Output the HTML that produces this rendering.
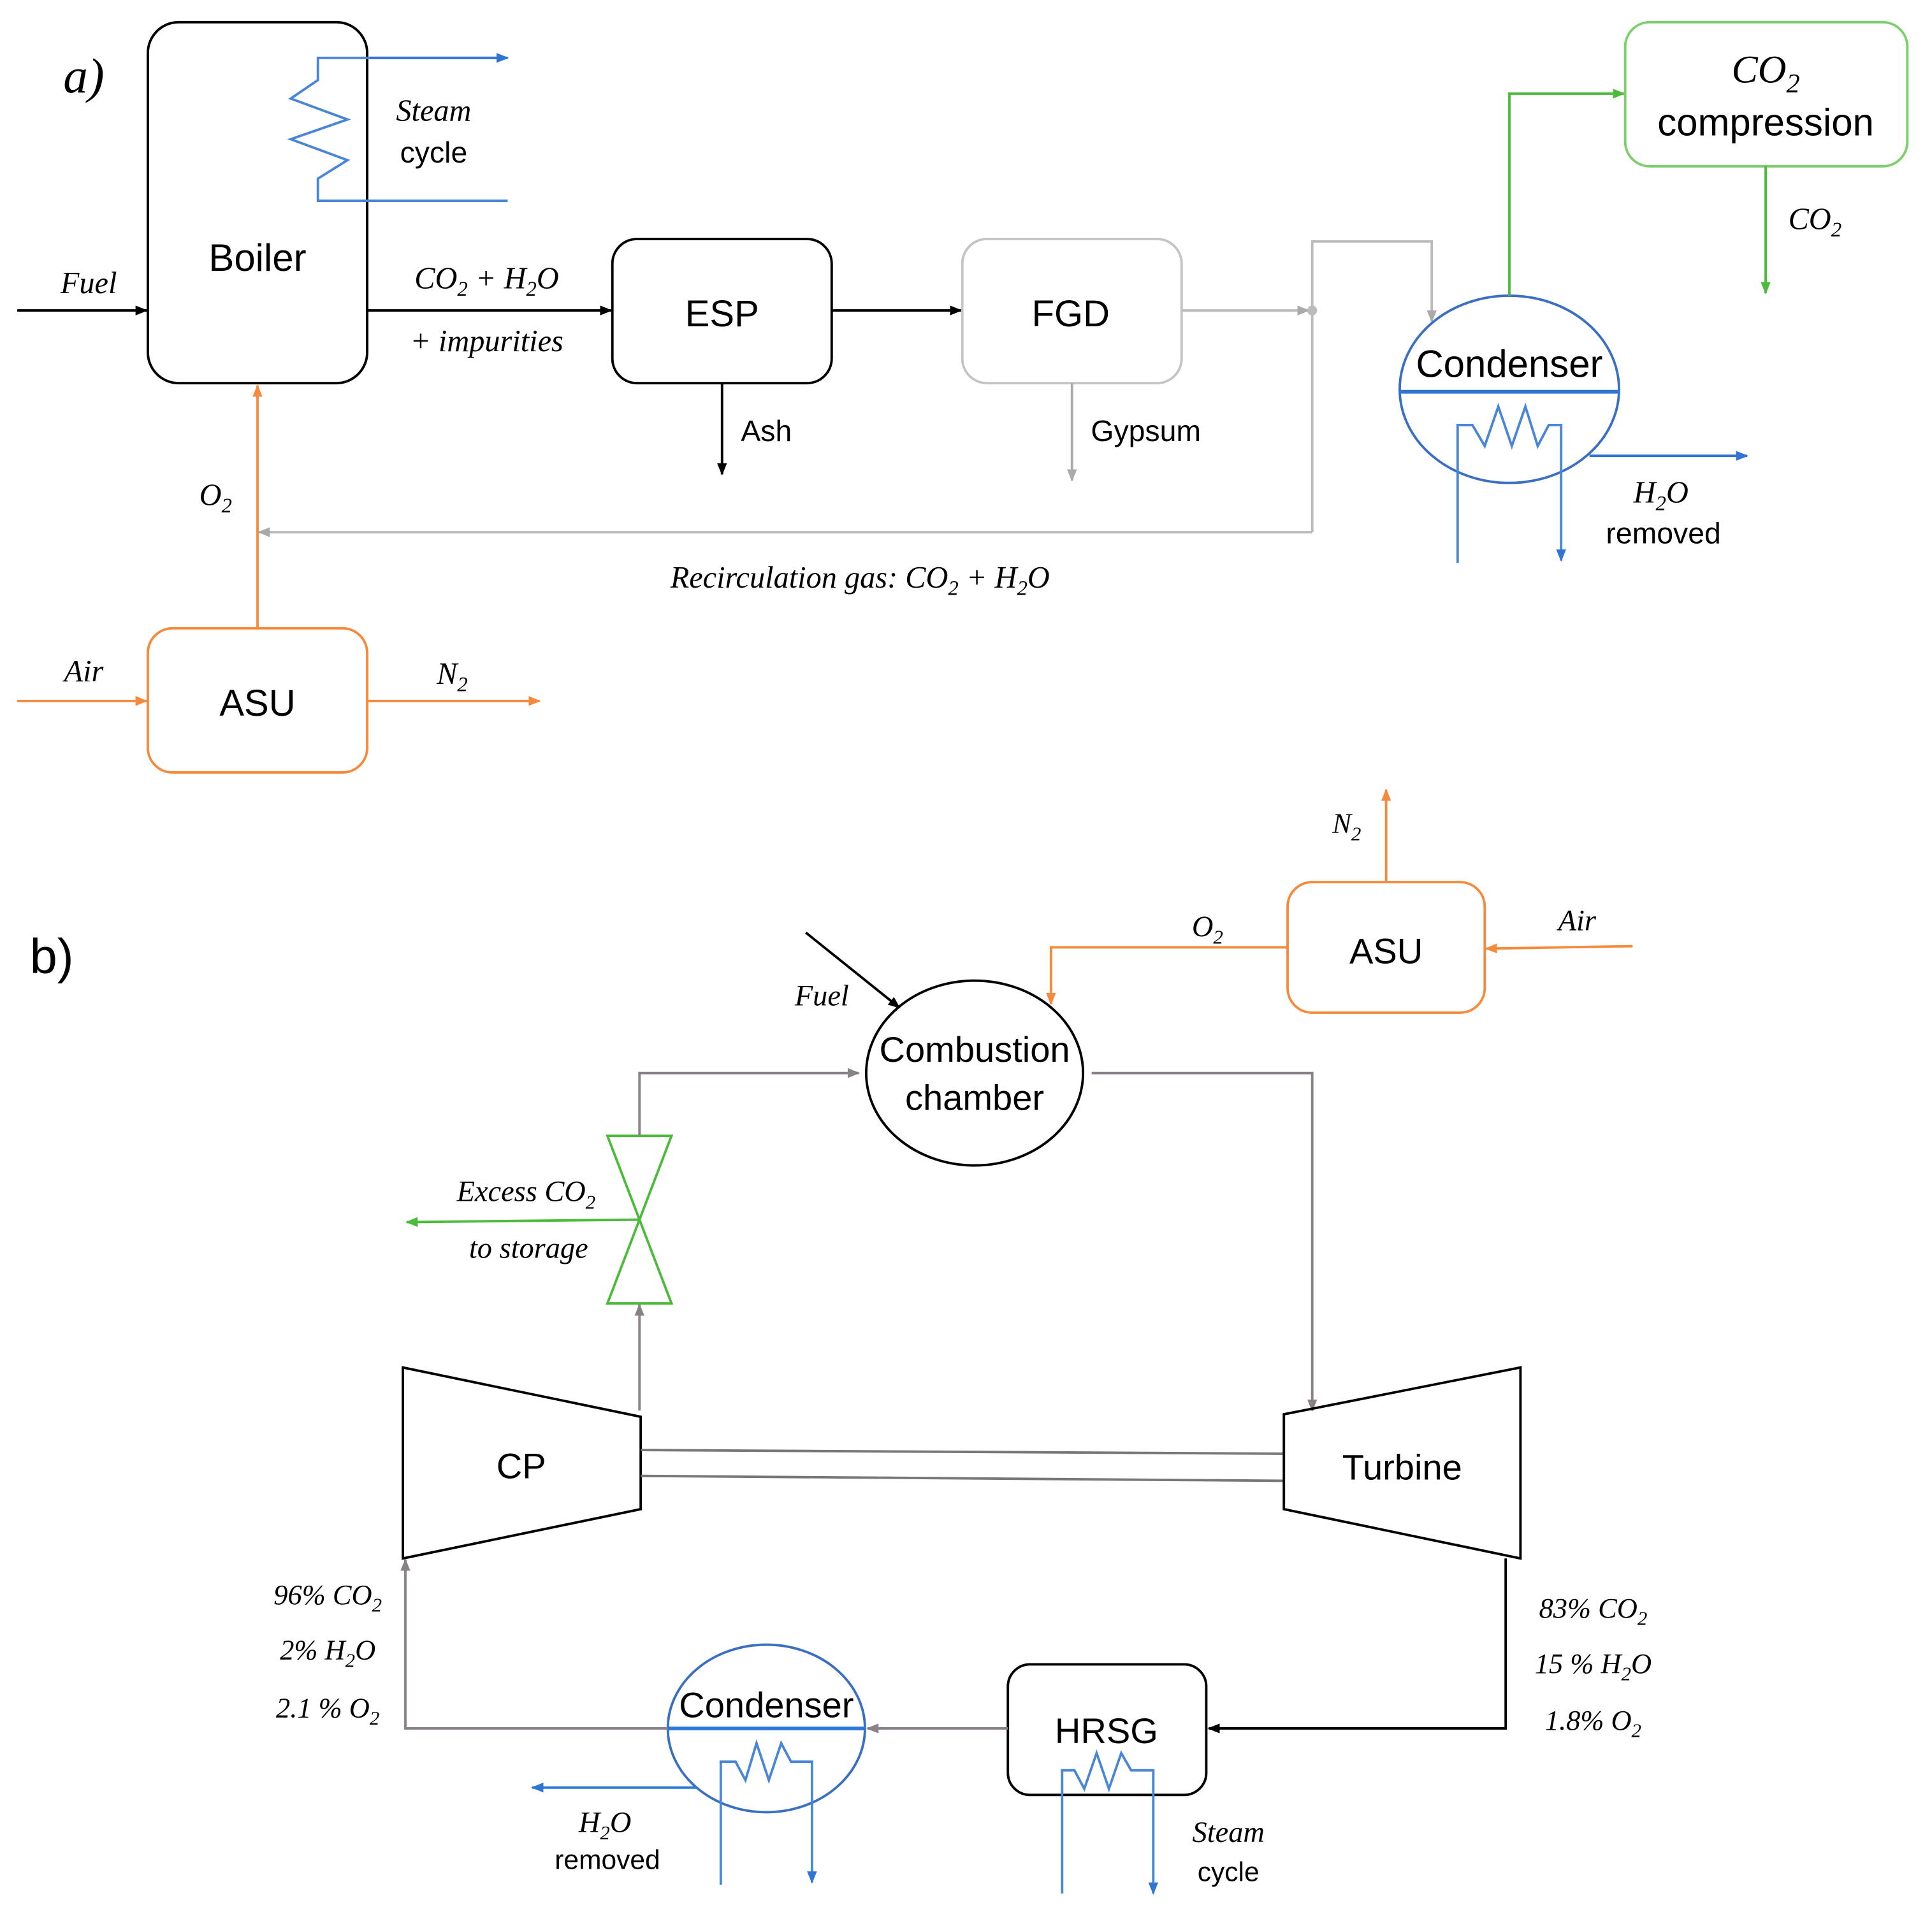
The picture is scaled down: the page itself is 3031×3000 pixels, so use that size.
<!DOCTYPE html>
<html><head><meta charset="utf-8"><style>
html,body{margin:0;padding:0;background:#fff;}
svg{display:block;}
.s{font-family:"Liberation Sans",sans-serif;}
.m{font-family:"Liberation Serif",serif;font-style:italic;}
</style></head><body>
<svg width="3031" height="3000" viewBox="0 0 1568 1552" preserveAspectRatio="none" xmlns="http://www.w3.org/2000/svg">
<defs>
<marker id="ak" markerWidth="10" markerHeight="8" refX="9" refY="4" orient="auto" markerUnits="userSpaceOnUse"><path d="M0,0 L10,4 L0,8z" fill="#000"/></marker>
<marker id="ag" markerWidth="10" markerHeight="8" refX="9" refY="4" orient="auto" markerUnits="userSpaceOnUse"><path d="M0,0 L10,4 L0,8z" fill="#aaa"/></marker>
<marker id="ab" markerWidth="10" markerHeight="8" refX="9" refY="4" orient="auto" markerUnits="userSpaceOnUse"><path d="M0,0 L10,4 L0,8z" fill="#2e75d6"/></marker>
<marker id="ao" markerWidth="10" markerHeight="8" refX="9" refY="4" orient="auto" markerUnits="userSpaceOnUse"><path d="M0,0 L10,4 L0,8z" fill="#f58a3c"/></marker>
<marker id="agr" markerWidth="10" markerHeight="8" refX="9" refY="4" orient="auto" markerUnits="userSpaceOnUse"><path d="M0,0 L10,4 L0,8z" fill="#4cbb3c"/></marker>
<marker id="ag2" markerWidth="10" markerHeight="8" refX="9" refY="4" orient="auto" markerUnits="userSpaceOnUse"><path d="M0,0 L10,4 L0,8z" fill="#8a8088"/></marker>
</defs>
<g fill="none" stroke-width="2">
<rect x="120" y="18" width="178" height="293" rx="25" stroke="#000"/>
<polyline points="412,47 258,47 258,65 236,80 282,97 236,113 282,130 258,145 258,163 412,163" stroke="#4a86d6"/>
<line x1="300" y1="47" x2="412" y2="47" stroke="#2e75d6" marker-end="url(#ab)"/>
<line x1="14" y1="252" x2="119" y2="252" stroke="#000" marker-end="url(#ak)"/>
<line x1="298" y1="252" x2="496" y2="252" stroke="#000" marker-end="url(#ak)"/>
<rect x="497" y="194" width="178" height="117" rx="20" stroke="#000"/>
<line x1="675" y1="252" x2="780" y2="252" stroke="#000" marker-end="url(#ak)"/>
<line x1="586" y1="311" x2="586" y2="385" stroke="#000" marker-end="url(#ak)"/>
<rect x="781" y="194" width="178" height="117" rx="20" stroke="#c4c4c4"/>
<line x1="870" y1="311" x2="870" y2="390" stroke="#aaa" marker-end="url(#ag)"/>
<line x1="959" y1="252" x2="1062" y2="252" stroke="#bbb" marker-end="url(#ag)"/>
<polyline points="1065,432 1065,196 1162,196 1162,261" stroke="#bbb" marker-end="url(#ag)"/>
<line x1="1065" y1="432" x2="210" y2="432" stroke="#bbb" marker-end="url(#ag)"/>
<ellipse cx="1225" cy="316" rx="89" ry="76" stroke="#3b6fc2"/>
<line x1="1136" y1="318" x2="1314" y2="318" stroke="#2e75d6" stroke-width="3"/>
<polyline points="1183,457 1183,345 1195,345 1205,362 1216,330 1227,362 1238,330 1248,362 1257,345 1267,345 1267,455" stroke="#4a86d6" marker-end="url(#ab)"/>
<line x1="1290" y1="370" x2="1418" y2="370" stroke="#2e75d6" marker-end="url(#ab)"/>
<polyline points="1225,240 1225,76 1318,76" stroke="#4cbb3c" marker-end="url(#agr)"/>
<rect x="1319" y="18" width="229" height="117" rx="20" stroke="#7ccf6c"/>
<line x1="1433" y1="135" x2="1433" y2="238" stroke="#4cbb3c" marker-end="url(#agr)"/>
<line x1="209" y1="510" x2="209" y2="313" stroke="#f58a3c" marker-end="url(#ao)"/>
<rect x="120" y="510" width="178" height="117" rx="20" stroke="#f58a3c"/>
<line x1="14" y1="569" x2="119" y2="569" stroke="#f58a3c" marker-end="url(#ao)"/>
<line x1="298" y1="569" x2="438" y2="569" stroke="#f58a3c" marker-end="url(#ao)"/>
<rect x="1045" y="716" width="160" height="106" rx="20" stroke="#f58a3c"/>
<line x1="1125" y1="716" x2="1125" y2="641" stroke="#f58a3c" marker-end="url(#ao)"/>
<line x1="1325" y1="768" x2="1206" y2="770" stroke="#f58a3c" marker-end="url(#ao)"/>
<polyline points="1045,769 853,769 853,815" stroke="#f58a3c" marker-end="url(#ao)"/>
<line x1="654" y1="757" x2="730" y2="818" stroke="#000" marker-end="url(#ak)"/>
<ellipse cx="791" cy="871" rx="88" ry="75" stroke="#000"/>
<polyline points="886,871 1065,871 1065,1145" stroke="#8a8088" marker-end="url(#ag2)"/>
<polygon points="493,922 545,922 519,990" stroke="#4cbb3c"/>
<polygon points="493,1058 545,1058 519,990" stroke="#4cbb3c"/>
<polyline points="519,922 519,871 697,871" stroke="#8a8088" marker-end="url(#ag2)"/>
<line x1="519" y1="990" x2="330" y2="992" stroke="#4cbb3c" marker-end="url(#agr)"/>
<line x1="519" y1="1145" x2="519" y2="1059" stroke="#8a8088" marker-end="url(#ag2)"/>
<polygon points="327,1110 520,1150 520,1225 327,1265" stroke="#000"/>
<line x1="520" y1="1177" x2="1042" y2="1180" stroke="#777"/>
<line x1="520" y1="1198" x2="1042" y2="1202" stroke="#777"/>
<polygon points="1042,1148 1234,1110 1234,1265 1042,1225" stroke="#000"/>
<polyline points="1222,1265 1222,1403 981,1403" stroke="#000" marker-end="url(#ak)"/>
<rect x="818" y="1351" width="161" height="106" rx="18" stroke="#000"/>
<polyline points="862,1537 862,1437 872,1437 880,1452 890,1423 900,1452 910,1423 918,1437 936,1437 936,1537" stroke="#4a86d6" marker-end="url(#ab)"/>
<line x1="818" y1="1403" x2="704" y2="1403" stroke="#8a8088" marker-end="url(#ag2)"/>
<ellipse cx="622" cy="1403" rx="80" ry="68" stroke="#3b6fc2"/>
<line x1="542" y1="1403" x2="702" y2="1403" stroke="#2e75d6" stroke-width="3"/>
<polyline points="585,1530 585,1430 597,1430 605,1445 614,1415 624,1445 634,1415 642,1430 659,1430 659,1528" stroke="#4a86d6" marker-end="url(#ab)"/>
<line x1="565" y1="1451" x2="432" y2="1451" stroke="#2e75d6" marker-end="url(#ab)"/>
<polyline points="542,1403 329,1403 329,1266" stroke="#8a8088" marker-end="url(#ag2)"/>
</g>
<circle cx="1065" cy="252" r="4" fill="#bbb"/>
<g fill="#000" text-anchor="middle">
<text x="68" y="75" class="m" font-size="40">a)</text>
<text x="209" y="220" class="s" font-size="31">Boiler</text>
<text x="352" y="98" class="m" font-size="25">Steam</text>
<text x="352" y="132" class="s" font-size="24">cycle</text>
<text x="72" y="238" class="m" font-size="25">Fuel</text>
<text x="395" y="234" class="m" font-size="25">CO<tspan font-size="17" dy="6">2</tspan><tspan dy="-6"> + H</tspan><tspan font-size="17" dy="6">2</tspan><tspan dy="-6">O</tspan></text>
<text x="395" y="285" class="m" font-size="25">+ impurities</text>
<text x="586" y="265" class="s" font-size="30">ESP</text>
<text x="622" y="358" class="s" font-size="24">Ash</text>
<text x="869" y="265" class="s" font-size="30">FGD</text>
<text x="930" y="358" class="s" font-size="24">Gypsum</text>
<text x="698" y="477" class="m" font-size="25">Recirculation gas:  CO<tspan font-size="17" dy="6">2</tspan><tspan dy="-6"> + H</tspan><tspan font-size="17" dy="6">2</tspan><tspan dy="-6">O</tspan></text>
<text x="1225" y="306" class="s" font-size="31">Condenser</text>
<text x="1348" y="408" class="m" font-size="25">H<tspan font-size="17" dy="6">2</tspan><tspan dy="-6">O</tspan></text>
<text x="1350" y="441" class="s" font-size="24">removed</text>
<text x="1433" y="67" class="m" font-size="32">CO<tspan font-size="22" dy="8">2</tspan></text>
<text x="1433" y="110" class="s" font-size="31">compression</text>
<text x="1473" y="186" class="m" font-size="25">CO<tspan font-size="17" dy="6">2</tspan></text>
<text x="175" y="410" class="m" font-size="25">O<tspan font-size="17" dy="6">2</tspan></text>
<text x="209" y="581" class="s" font-size="30">ASU</text>
<text x="68" y="553" class="m" font-size="25">Air</text>
<text x="367" y="555" class="m" font-size="25">N<tspan font-size="17" dy="6">2</tspan></text>
<text x="42" y="790" class="s" font-size="40">b)</text>
<text x="1125" y="782" class="s" font-size="29">ASU</text>
<text x="1093" y="676" class="m" font-size="23">N<tspan font-size="16" dy="6">2</tspan></text>
<text x="1280" y="755" class="m" font-size="24">Air</text>
<text x="980" y="760" class="m" font-size="24">O<tspan font-size="16" dy="6">2</tspan></text>
<text x="667" y="816" class="m" font-size="24">Fuel</text>
<text x="791" y="862" class="s" font-size="29">Combustion</text>
<text x="791" y="901" class="s" font-size="29">chamber</text>
<text x="427" y="975" class="m" font-size="24">Excess CO<tspan font-size="16" dy="6">2</tspan></text>
<text x="429" y="1021" class="m" font-size="24">to storage</text>
<text x="423" y="1200" class="s" font-size="29">CP</text>
<text x="1138" y="1201" class="s" font-size="29">Turbine</text>
<text x="1293" y="1313" class="m" font-size="23">83% CO<tspan font-size="16" dy="6">2</tspan></text>
<text x="1293" y="1358" class="m" font-size="23">15 % H<tspan font-size="16" dy="6">2</tspan><tspan dy="-6">O</tspan></text>
<text x="1293" y="1404" class="m" font-size="23">1.8% O<tspan font-size="16" dy="6">2</tspan></text>
<text x="898" y="1415" class="s" font-size="29">HRSG</text>
<text x="997" y="1495" class="m" font-size="24">Steam</text>
<text x="997" y="1527" class="s" font-size="22">cycle</text>
<text x="622" y="1394" class="s" font-size="29">Condenser</text>
<text x="491" y="1487" class="m" font-size="24">H<tspan font-size="16" dy="6">2</tspan><tspan dy="-6">O</tspan></text>
<text x="493" y="1517" class="s" font-size="22">removed</text>
<text x="266" y="1302" class="m" font-size="23">96% CO<tspan font-size="16" dy="6">2</tspan></text>
<text x="266" y="1347" class="m" font-size="23">2% H<tspan font-size="16" dy="6">2</tspan><tspan dy="-6">O</tspan></text>
<text x="266" y="1394" class="m" font-size="23">2.1 % O<tspan font-size="16" dy="6">2</tspan></text>
</g>
</svg>
</body></html>
